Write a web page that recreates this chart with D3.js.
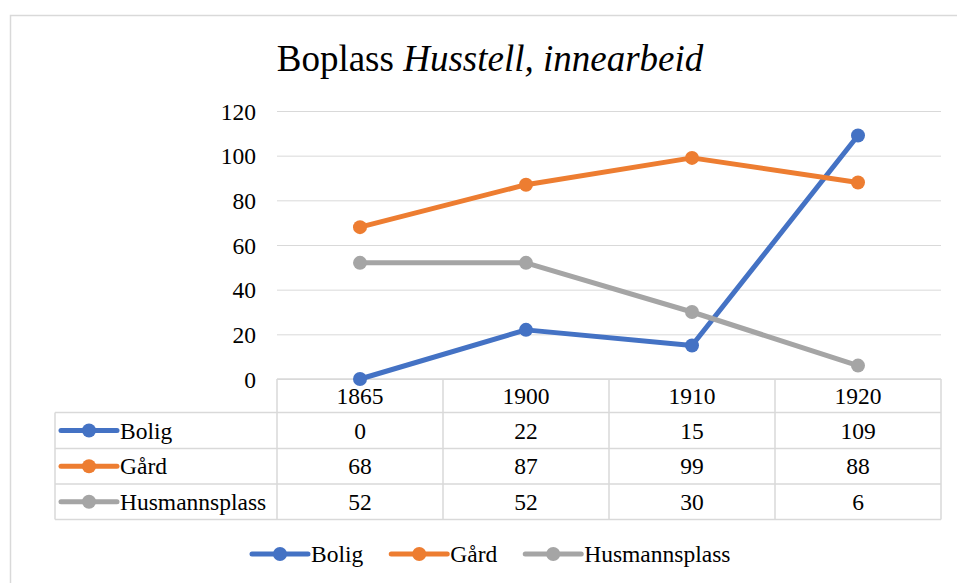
<!DOCTYPE html>
<html>
<head>
<meta charset="utf-8">
<script src="https://cdn.jsdelivr.net/npm/d3@7"></script>
<style>
  body { margin: 0; background: #fff; }
  .grid line { stroke: #d9d9d9; stroke-width: 1; }
  .cell { stroke: #d9d9d9; stroke-width: 1.5; fill: none; }
</style>
</head>
<body>
<svg id="chart" width="957" height="583"></svg>
<script>
// data
var years = ["1865", "1900", "1910", "1920"];
var seriesNames = ["Bolig", "Gård", "Husmannsplass"];
var bolig = [0, 22, 15, 109];
var gard = [68, 87, 99, 88];
var husmannsplass = [52, 52, 30, 6];
var yTicks = [0, 20, 40, 60, 80, 100, 120];
var colors = ["#4472c4", "#ed7d31", "#a5a5a5"];

(function() {
  var serif = "'Liberation Serif', 'Times New Roman', serif";
  var series = [bolig, gard, husmannsplass];
  var lw = 5, mr = 7;

  var svg = d3.select("#chart")
    .attr("font-family", serif);

  // outer chart frame
  svg.append("rect")
    .attr("x", 10.5).attr("y", 15.5)
    .attr("width", 980).attr("height", 620)
    .attr("fill", "none").attr("stroke", "#d9d9d9").attr("stroke-width", 1.5);

  // title
  var title = svg.append("text")
    .attr("x", 490).attr("y", 71)
    .attr("text-anchor", "middle")
    .style("font-family", serif)
    .style("font-size", "37px");
  title.append("tspan").text("Boplass ");
  title.append("tspan").style("font-style", "italic").text("Husstell, innearbeid");

  var pl = 277, pr = 941, pt = 111, pb = 379;

  var x = d3.scaleBand().domain(years).range([pl, pr]).padding(0);
  var y = d3.scaleLinear().domain([0, 120]).range([pb, pt]);
  var cx = function(i) { return x(years[i]) + x.bandwidth() / 2; };

  // gridlines + tick labels
  var yAxis = d3.axisLeft(y)
    .tickValues(yTicks)
    .tickSize(-(pr - pl))
    .tickPadding(21);

  var ga = svg.append("g")
    .attr("class", "grid")
    .attr("transform", "translate(" + pl + ",0)")
    .call(yAxis);
  ga.attr("font-family", null).attr("font-size", null);
  ga.select(".domain").remove();
  ga.selectAll("text")
    .style("font-family", serif)
    .style("font-size", "23.5px")
    .attr("fill", "#000")
    .attr("dy", "0.34em");

  // data table
  var rowTops = [pb, 412.5, 448.5, 484, 519.5];
  var tableLeft = 55;
  var tbl = svg.append("g");

  rowTops.forEach(function(ry, i) {
    tbl.append("line").attr("class", "cell")
      .attr("x1", i === 0 ? pl : tableLeft).attr("x2", pr)
      .attr("y1", ry).attr("y2", ry);
  });
  years.concat(["end"]).forEach(function(yr, i) {
    var xx = i < years.length ? x(yr) : pr;
    tbl.append("line").attr("class", "cell")
      .attr("x1", xx).attr("x2", xx)
      .attr("y1", pb).attr("y2", rowTops[4]);
  });
  tbl.append("line").attr("class", "cell")
    .attr("x1", tableLeft).attr("x2", tableLeft)
    .attr("y1", rowTops[1]).attr("y2", rowTops[4]);

  // year header
  tbl.selectAll(".yr").data(years).enter().append("text")
    .attr("x", function(d, i) { return cx(i); })
    .attr("y", (rowTops[0] + rowTops[1]) / 2 + 8)
    .attr("text-anchor", "middle")
    .style("font-family", serif)
    .style("font-size", "23.5px")
    .text(function(d) { return d; });

  // series rows
  series.forEach(function(vals, si) {
    var ry = (rowTops[si + 1] + rowTops[si + 2]) / 2;
    tbl.append("line")
      .attr("x1", 61).attr("x2", 117).attr("y1", ry).attr("y2", ry)
      .attr("stroke", colors[si]).attr("stroke-width", lw).attr("stroke-linecap", "round");
    tbl.append("circle").attr("cx", 89).attr("cy", ry).attr("r", mr).attr("fill", colors[si]);
    tbl.append("text").attr("x", 120).attr("y", ry + 8)
      .style("font-family", serif)
      .style("font-size", "23.5px").text(seriesNames[si]);
    tbl.selectAll(null).data(vals).enter().append("text")
      .attr("x", function(d, i) { return cx(i); })
      .attr("y", ry + 8)
      .attr("text-anchor", "middle")
      .style("font-family", serif)
      .style("font-size", "23.5px")
      .text(function(d) { return d; });
  });

  // lines + markers
  var line = d3.line()
    .x(function(d, i) { return cx(i); })
    .y(function(d) { return y(d); });

  series.forEach(function(vals, si) {
    var g = svg.append("g");
    g.append("path")
      .attr("d", line(vals))
      .attr("fill", "none")
      .attr("stroke", colors[si])
      .attr("stroke-width", lw)
      .attr("stroke-linejoin", "round")
      .attr("stroke-linecap", "round");
    g.selectAll("circle").data(vals).enter().append("circle")
      .attr("cx", function(d, i) { return cx(i); })
      .attr("cy", function(d) { return y(d); })
      .attr("r", mr)
      .attr("fill", colors[si]);
  });

  // legend
  var legY = 554;
  var lx = 252;
  var leg = svg.append("g");
  seriesNames.forEach(function(name, si) {
    leg.append("line")
      .attr("x1", lx).attr("x2", lx + 56).attr("y1", legY).attr("y2", legY)
      .attr("stroke", colors[si]).attr("stroke-width", lw).attr("stroke-linecap", "round");
    leg.append("circle").attr("cx", lx + 28).attr("cy", legY).attr("r", mr).attr("fill", colors[si]);
    var t = leg.append("text").attr("x", lx + 59).attr("y", legY + 8)
      .style("font-family", serif)
      .style("font-size", "23.5px").text(name);
    lx = lx + 59 + t.node().getComputedTextLength() + 28;
  });
})();
</script>
</body>
</html>
